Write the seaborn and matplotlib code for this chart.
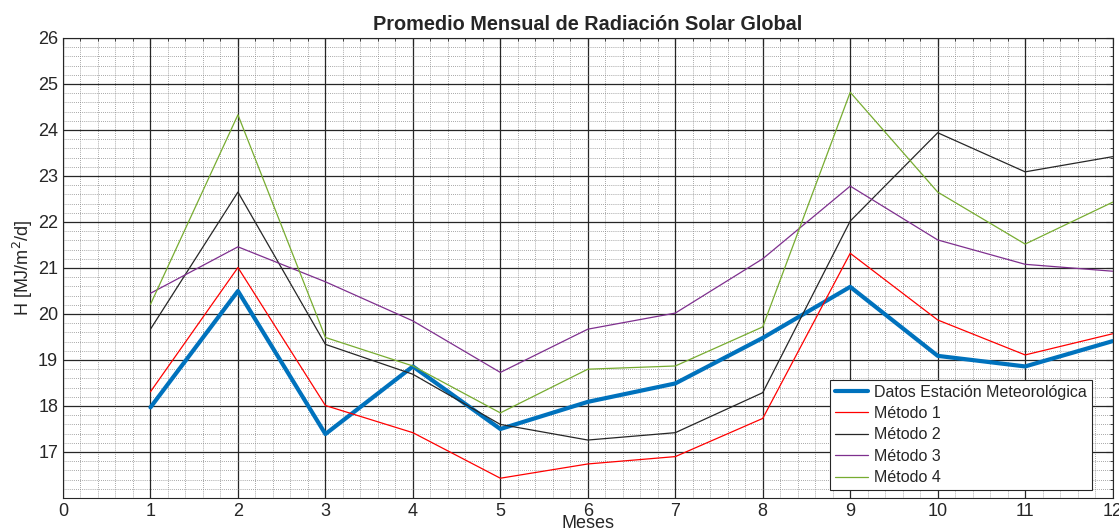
import numpy as np
import pandas as pd
import seaborn as sns
from matplotlib import pyplot as plt
from matplotlib.ticker import MultipleLocator

meses = [1, 2, 3, 4, 5, 6, 7, 8, 9, 10, 11, 12]
estacion = [17.97, 20.50, 17.39, 18.86, 17.50, 18.09, 18.49, 19.48, 20.59, 19.09, 18.86, 19.41]
metodo1 = [18.31, 21.01, 18.01, 17.42, 16.43, 16.74, 16.90, 17.73, 21.32, 19.87, 19.11, 19.57]
metodo2 = [19.67, 22.65, 19.34, 18.69, 17.60, 17.26, 17.42, 18.29, 22.02, 23.94, 23.09, 23.42]
metodo3 = [20.45, 21.46, 20.70, 19.85, 18.73, 19.67, 20.02, 21.20, 22.78, 21.61, 21.08, 20.93]
metodo4 = [20.21, 24.33, 19.49, 18.87, 17.85, 18.80, 18.87, 19.72, 24.82, 22.65, 21.52, 22.43]

series = {
    'Datos Estación Meteorológica': (estacion, '#0072BD', 3.0),
    'Método 1': (metodo1, '#FF0000', 0.9),
    'Método 2': (metodo2, '#262626', 0.9),
    'Método 3': (metodo3, '#7E2F8E', 0.9),
    'Método 4': (metodo4, '#77AC30', 0.9),
}

sns.set_style("white")
plt.rcParams['font.family'] = ['Liberation Sans', 'DejaVu Sans']

fig = plt.figure(figsize=(11.19, 5.29), dpi=100)
ax = fig.add_axes([0.0563, 0.0586, 0.938, 0.8696])

for name, (vals, col, lw) in series.items():
    df = pd.DataFrame({'mes': meses, 'H': vals})
    sns.lineplot(data=df, x='mes', y='H', color=col, linewidth=lw, label=name, ax=ax)

ax.set_xlim(0, 12)
ax.set_ylim(16, 26)
ax.set_xticks(range(0, 13))
ax.set_yticks(range(17, 27))
ax.xaxis.set_minor_locator(MultipleLocator(0.2))
ax.yaxis.set_minor_locator(MultipleLocator(0.2))
ax.grid(which='major', color='#262626', linewidth=0.9, linestyle='-')
ax.grid(which='minor', color='#8a8a8a', linewidth=0.6, linestyle=(0, (1, 1.5)))
ax.set_axisbelow(True)
ax.tick_params(which='both', direction='in', top=True, right=True, labelsize=13, colors='#262626')
ax.tick_params(which='major', length=5)
ax.tick_params(which='minor', length=2.5)
for s in ax.spines.values():
    s.set_color('#262626')
    s.set_linewidth(0.8)

ax.set_title('Promedio Mensual de Radiación Solar Global', fontsize=14.3, fontweight='bold', pad=6)
ax.set_xlabel('Meses', fontsize=13, labelpad=-3.5)
ax.set_ylabel('H [MJ/m$^2$/d]', fontsize=13, labelpad=2)

leg = ax.legend(loc='lower right', fontsize=11.5, frameon=True, fancybox=False,
                edgecolor='#262626', framealpha=1, borderpad=0.3, labelspacing=0.4,
                handlelength=2.1, handletextpad=0.4, bbox_to_anchor=(0.988, 0.0))
leg.get_frame().set_linewidth(0.8)

fig.savefig('out.png', dpi=100)
